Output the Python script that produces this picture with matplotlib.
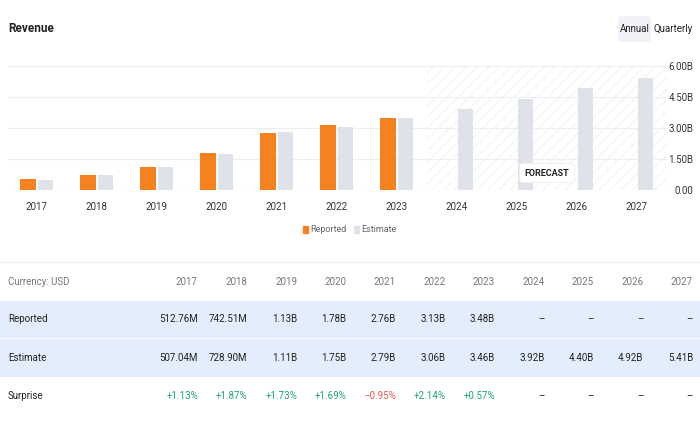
import matplotlib
matplotlib.use("Agg")
import matplotlib.pyplot as plt
from matplotlib.patches import FancyBboxPatch, Rectangle
from matplotlib import font_manager

names = {f.name for f in font_manager.fontManager.ttflist}
plt.rcParams['font.family'] = [n for n in ['Liberation Sans Narrow', 'Roboto', 'DejaVu Sans'] if n in names]
plt.rcParams['hatch.linewidth'] = 0.6

# data (billions USD)
years = ['2017', '2018', '2019', '2020', '2021', '2022', '2023', '2024', '2025', '2026', '2027']
reported = [0.51276, 0.74251, 1.13, 1.78, 2.76, 3.13, 3.48]
estimate = [0.50704, 0.72890, 1.11, 1.75, 2.79, 3.06, 3.46, 3.92, 4.40, 4.92, 5.41]
surprise = [1.13, 1.87, 1.73, 1.69, -0.95, 2.14, 0.57]
yticks = [0, 1.5, 3.0, 4.5, 6.0]
ytick_labels = ['0.00', '1.50B', '3.00B', '4.50B', '6.00B']

ORANGE = '#f5821f'
GREY = '#dfe2e9'
W, H = 700, 428


def fmt(v):
    return f"{v * 1000:.2f}M" if v < 1 else f"{v:.2f}B"


fig = plt.figure(figsize=(7, 4.28), dpi=100)
ax = fig.add_axes([8 / W, (H - 190) / H, 659 / W, 124 / H])

x = list(range(len(years)))
bw = 0.26
ax.bar([i - 0.145 for i in range(len(reported))], reported, width=bw, color=ORANGE, zorder=3)
ax.bar([i + 0.145 for i in x], estimate, width=bw, color=GREY, zorder=3)

# forecast hatch
ax.axvspan(len(reported) - 0.5, len(years) - 0.5, facecolor='none', hatch='///',
           edgecolor='#eef0f4', linewidth=0, zorder=1)
ax.text(8.5, 0.82, 'FORECAST', ha='center', va='center', fontsize=6.5, fontweight='bold',
        color='#222', zorder=5,
        bbox=dict(boxstyle='round,pad=0.55,rounding_size=0.3', fc='white', ec='#eef0f4', lw=0.6))

ax.set_xlim(-0.48, 10.5)
ax.set_ylim(0, 6)
ax.set_yticks(yticks)
ax.set_yticklabels(ytick_labels)
ax.yaxis.tick_right()
for lab in ax.get_yticklabels():
    lab.set_horizontalalignment('right')
ax.tick_params(axis='y', length=0, pad=19, labelsize=7, labelcolor='#333')
ax.set_xticks(x)
ax.set_xticklabels(years)
ax.tick_params(axis='x', length=0, pad=9, labelsize=7, labelcolor='#333')
ax.grid(axis='y', color='#eceef4', linewidth=0.8, zorder=0)
for s in ax.spines.values():
    s.set_visible(False)
ax.set_facecolor('none')

# legend
lg = fig.legend(handles=[Rectangle((0, 0), 1, 1, color=ORANGE), Rectangle((0, 0), 1, 1, color=GREY)],
                labels=['Reported', 'Estimate'], loc='center', bbox_to_anchor=(350 / W, 1 - 230 / H),
                ncol=2, frameon=False, fontsize=6.5, handlelength=0.5, handleheight=0.9,
                handletextpad=0.3, columnspacing=0.8, labelcolor='#666')

# header
fig.text(8 / W, 1 - 28 / H, 'Revenue', fontsize=8.5, fontweight='bold', color='#222', va='center')
fig.patches.append(FancyBboxPatch((618 / W, 1 - 42 / H), 33 / W, 26 / H,
                                  boxstyle='round,pad=0,rounding_size=0.008',
                                  transform=fig.transFigure, fc='#f0f2f7', ec='none'))
fig.text(634.5 / W, 1 - 29 / H, 'Annual', fontsize=7, color='#222', ha='center', va='center')
fig.text(673 / W, 1 - 29 / H, 'Quarterly', fontsize=7, color='#222', ha='center', va='center')

# table
fig.add_artist(plt.Line2D([0, 1], [1 - 262 / H, 1 - 262 / H], color='#eef0f5', lw=0.8))
for top, bot in [(301, 338), (339, 377)]:
    fig.patches.append(Rectangle((0, 1 - bot / H), 1, (bot - top) / H,
                                 transform=fig.transFigure, fc='#e3edfb', ec='none'))

col_x = [198 + 49.5 * i for i in range(len(years))]
rows_y = {'head': 282, 'rep': 319, 'est': 358, 'sur': 396}
fs = 7
fig.text(8 / W, 1 - rows_y['head'] / H, 'Currency: USD', fontsize=fs, color='#777', va='center')
fig.text(8 / W, 1 - rows_y['rep'] / H, 'Reported', fontsize=fs, color='#222', va='center')
fig.text(8 / W, 1 - rows_y['est'] / H, 'Estimate', fontsize=fs, color='#222', va='center')
fig.text(8 / W, 1 - rows_y['sur'] / H, 'Surprise', fontsize=fs, color='#222', va='center')
for i, yr in enumerate(years):
    cx = col_x[i] / W
    fig.text(cx, 1 - rows_y['head'] / H, yr, fontsize=fs, color='#777', ha='right', va='center')
    rep = fmt(reported[i]) if i < len(reported) else '–'
    fig.text(cx, 1 - rows_y['rep'] / H, rep, fontsize=fs, color='#222', ha='right', va='center')
    fig.text(cx, 1 - rows_y['est'] / H, fmt(estimate[i]), fontsize=fs, color='#222', ha='right', va='center')
    if i < len(surprise):
        s = surprise[i]
        txt = f"+{s:.2f}%" if s >= 0 else f"\u2212{abs(s):.2f}%"
        col = '#22a37a' if s >= 0 else '#ef5350'
    else:
        txt, col = '–', '#222'
    fig.text(cx, 1 - rows_y['sur'] / H, txt, fontsize=fs, color=col, ha='right', va='center')

fig.savefig('out.png', dpi=100)
